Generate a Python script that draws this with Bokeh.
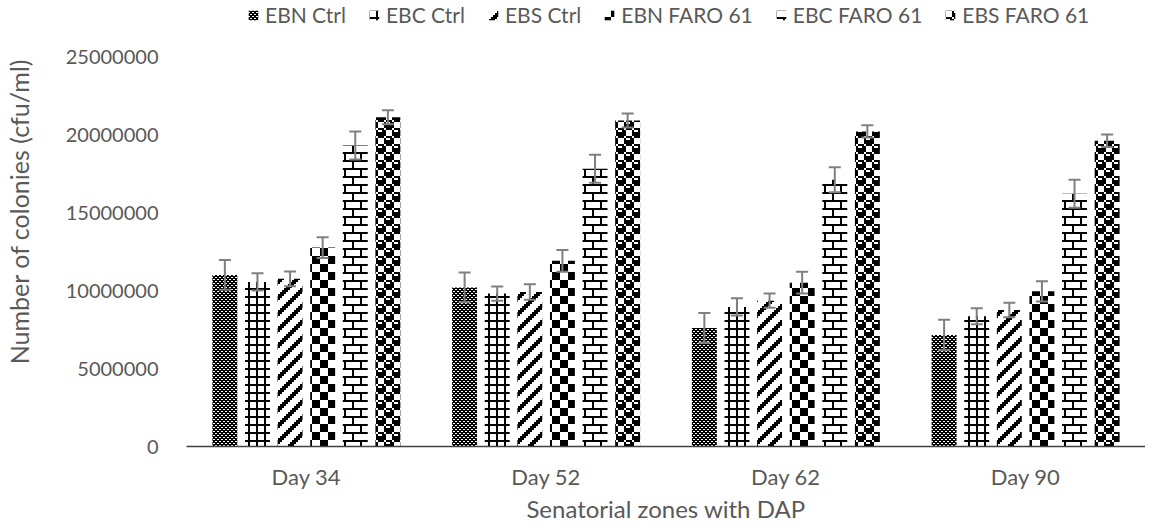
import base64
import struct
import zlib
from bokeh.plotting import figure
from bokeh.models import (ColumnDataSource, Whisker, TeeHead, Legend, LegendItem, Title,
                          ImageURLTexture, FixedTicker, NumeralTickFormatter)
from bokeh.core.properties import value
from bokeh.transform import dodge
from bokeh.embed import file_html
from bokeh.resources import INLINE

# ---------------- data ----------------
days = ["Day 34", "Day 52", "Day 62", "Day 90"]
series_names = ["EBN Ctrl", "EBC Ctrl", "EBS Ctrl", "EBN FARO 61", "EBC FARO 61", "EBS FARO 61"]

ebn_ctrl = [11000000, 10200000, 7600000, 7150000]
ebn_ctrl_err = [950000, 950000, 950000, 980000]
ebc_ctrl = [10550000, 9800000, 8950000, 8350000]
ebc_ctrl_err = [550000, 450000, 550000, 520000]
ebs_ctrl = [10750000, 9900000, 9350000, 8750000]
ebs_ctrl_err = [470000, 500000, 450000, 470000]
ebn_faro = [12750000, 11900000, 10500000, 9950000]
ebn_faro_err = [660000, 700000, 700000, 650000]
ebc_faro = [19300000, 17800000, 17100000, 16200000]
ebc_faro_err = [900000, 900000, 800000, 900000]
ebs_faro = [21100000, 20900000, 20200000, 19600000]
ebs_faro_err = [450000, 450000, 400000, 400000]

y_ticks = [0, 5000000, 10000000, 15000000, 20000000, 25000000]

values = [ebn_ctrl, ebc_ctrl, ebs_ctrl, ebn_faro, ebc_faro, ebs_faro]
errors = [ebn_ctrl_err, ebc_ctrl_err, ebs_ctrl_err, ebn_faro_err, ebc_faro_err, ebs_faro_err]

# ---------------- styles ----------------
TEXT = "#595959"
FONT = "Lato"
ERR = "#7f7f7f"
offsets = [-0.34, -0.204, -0.068, 0.068, 0.204, 0.34]
bar_width = 0.104

FRAME_H = 446          # frame reaches the top of the canvas (legend lives there)
TOP_GAP = 56           # empty band above the highest tick
y_max = y_ticks[-1] * FRAME_H / (FRAME_H - TOP_GAP)

# 8x8 Excel-like fill bitmaps and their pixel size
bitmaps = [
    ([0xff, 0x66, 0xff, 0x99, 0xff, 0x66, 0xff, 0x99], 1),  # trellis
    ([0xff, 0x88, 0x88, 0x88, 0xff, 0x88, 0x88, 0x88], 2),  # small grid
    ([0x83, 0x07, 0x0e, 0x1c, 0x38, 0x70, 0xe0, 0xc1], 2),  # wide upward diagonal
    ([0x0f, 0x0f, 0x0f, 0x0f, 0xf0, 0xf0, 0xf0, 0xf0], 2),  # large checker board
    ([0xff, 0x80, 0x80, 0x80, 0xff, 0x08, 0x08, 0x08], 2),  # horizontal brick
    ([0x77, 0x89, 0x8f, 0x8f, 0x77, 0x98, 0xf8, 0xf8], 2),  # sphere
]


def png_texture(rows, px):
    size = 8 * px
    raw = b""
    for r in range(size):
        line = bytearray([0])
        bits = rows[r // px]
        for c in range(size):
            line.append(0 if bits & (0x80 >> (c // px)) else 255)
        raw += bytes(line)

    def chunk(tag, data):
        return (struct.pack(">I", len(data)) + tag + data
                + struct.pack(">I", zlib.crc32(tag + data) & 0xffffffff))

    png = (b"\x89PNG\r\n\x1a\n"
           + chunk(b"IHDR", struct.pack(">IIBBBBB", size, size, 8, 0, 0, 0, 0))
           + chunk(b"IDAT", zlib.compress(raw)) + chunk(b"IEND", b""))
    return ImageURLTexture(url="data:image/png;base64," + base64.b64encode(png).decode())


p = figure(x_range=days, y_range=(0, y_max),
           frame_width=959, frame_height=FRAME_H,
           min_border_left=170, min_border_right=0, min_border_top=0, min_border_bottom=66,
           output_backend="svg", toolbar_location=None,
           background_fill_color="white", border_fill_color="white")
p.outline_line_color = None
p.xgrid.grid_line_color = None
p.ygrid.grid_line_color = None

items = []
for i, name in enumerate(series_names):
    vals = values[i]
    errs = errors[i]
    src = ColumnDataSource(dict(
        day=days, value=vals,
        upper=[v + e for v, e in zip(vals, errs)],
        lower=[v - e for v, e in zip(vals, errs)],
    ))
    rows, px = bitmaps[i]
    key = f"pat{i}"
    r = p.vbar(x=dodge("day", offsets[i], range=p.x_range), top="value", width=bar_width,
               source=src, fill_color="white", line_color=None,
               hatch_pattern=value(key), hatch_extra={key: png_texture(rows, px)},
               hatch_color="black")
    items.append(LegendItem(label=name, renderers=[r]))
    w = Whisker(base=dodge("day", offsets[i], range=p.x_range), upper="upper", lower="lower",
                source=src, line_color=ERR, line_width=2, level="annotation",
                upper_head=TeeHead(size=12, line_color=ERR, line_width=2),
                lower_head=TeeHead(size=12, line_color=ERR, line_width=2))
    p.add_layout(w)

legend = Legend(items=items, orientation="horizontal", location=(61, 419),
                padding=0, margin=0, spacing=22, glyph_width=12, glyph_height=12,
                label_height=16, label_standoff=6, border_line_color=None,
                background_fill_alpha=0,
                label_text_font=FONT, label_text_font_size="21px", label_text_color=TEXT)
p.add_layout(legend, "center")

# axes
p.yaxis.ticker = FixedTicker(ticks=y_ticks)
p.yaxis.formatter = NumeralTickFormatter(format="0")
p.yaxis.axis_line_color = None
p.yaxis.major_tick_line_color = None
p.yaxis.minor_tick_line_color = None
p.yaxis.major_label_standoff = 22
# blank spacer label: keeps the side band wide so the title can sit near the edge
p.yaxis.axis_label = " "
p.yaxis.axis_label_text_font_size = "2px"
p.yaxis.axis_label_standoff = 19

p.xaxis.axis_line_color = "#404040"
p.xaxis.axis_line_width = 1.5
p.xaxis.major_tick_line_color = None
p.xaxis.minor_tick_line_color = None
p.xaxis.major_label_standoff = 10
p.xaxis.axis_label = "Senatorial zones with DAP"
p.xaxis.axis_label_standoff = 1
p.xaxis.axis_label_text_font_size = "24px"

for ax in (p.xaxis[0], p.yaxis[0]):
    ax.major_label_text_font = FONT
    ax.major_label_text_color = TEXT
    ax.axis_label_text_font = FONT
    ax.axis_label_text_font_style = "normal"
    ax.axis_label_text_color = TEXT
p.yaxis.major_label_text_font_size = "20px"
p.xaxis.major_label_text_font_size = "22px"

ytitle = Title(text="Number of colonies (cfu/ml)", align="right", offset=58,
               vertical_align="top",
               text_font=FONT, text_font_size="25px", text_font_style="normal",
               text_color=TEXT, standoff=6)
p.add_layout(ytitle, "left")

open("out.html", "w").write(file_html(p, INLINE))
